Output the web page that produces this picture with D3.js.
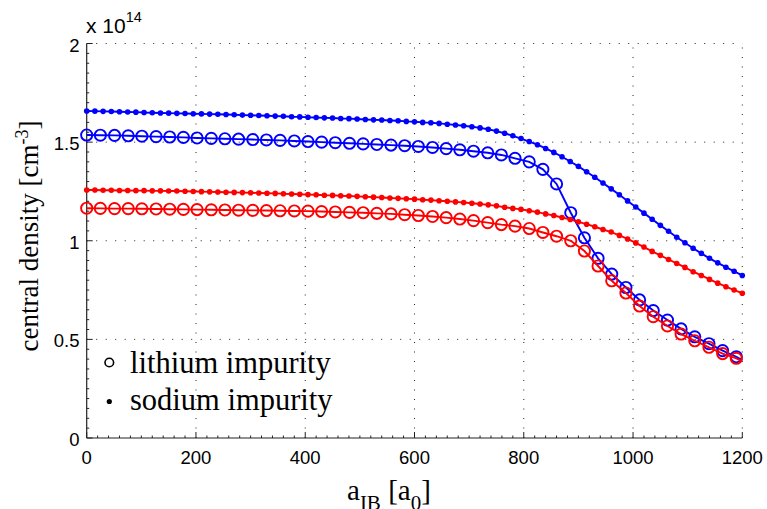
<!DOCTYPE html>
<html>
<head>
<meta charset="utf-8">
<script src="https://cdn.jsdelivr.net/npm/d3@7/dist/d3.min.js"></script>
<style>
  body { margin: 0; background: #fff; }
  svg { display: block; }
  .sans { font-family: "Liberation Sans", Arial, Helvetica, sans-serif; }
  .serif { font-family: "Liberation Serif", "Times New Roman", Times, serif; }
</style>
</head>
<body>
<svg id="chart" width="767" height="509"></svg>
<script>
// ---------- data ----------
const xTicks = [0, 200, 400, 600, 800, 1000, 1200];
const yTicks = [0, 0.5, 1, 1.5, 2];
const yTickLabels = ["0", "0.5", "1", "1.5", "2"];

// sodium impurity (filled dots), x step 15
const sodiumX = [0,15,30,45,60,75,90,105,120,135,150,165,180,195,210,225,240,255,270,285,300,315,330,345,360,375,390,405,420,435,450,465,480,495,510,525,540,555,570,585,600,615,630,645,660,675,690,705,720,735,750,765,780,795,810,825,840,855,870,885,900,915,930,945,960,975,990,1005,1020,1035,1050,1065,1080,1095,1110,1125,1140,1155,1170,1185,1200];
const sodiumBlue = [1.658,1.657,1.656,1.655,1.654,1.653,1.652,1.650,1.649,1.648,1.647,1.646,1.645,1.644,1.643,1.642,1.641,1.640,1.639,1.637,1.636,1.635,1.634,1.632,1.631,1.629,1.628,1.626,1.625,1.623,1.622,1.620,1.619,1.617,1.615,1.613,1.612,1.610,1.608,1.605,1.603,1.600,1.598,1.595,1.591,1.587,1.583,1.578,1.572,1.565,1.556,1.545,1.532,1.518,1.503,1.487,1.468,1.448,1.426,1.402,1.377,1.350,1.322,1.293,1.263,1.233,1.202,1.171,1.140,1.109,1.078,1.048,1.018,0.990,0.962,0.936,0.911,0.888,0.866,0.845,0.824];
const sodiumRed = [1.257,1.257,1.256,1.256,1.255,1.255,1.254,1.254,1.253,1.253,1.252,1.252,1.251,1.250,1.249,1.248,1.247,1.246,1.245,1.244,1.243,1.242,1.241,1.240,1.238,1.237,1.236,1.234,1.233,1.231,1.230,1.228,1.227,1.225,1.223,1.221,1.219,1.217,1.215,1.213,1.211,1.208,1.206,1.203,1.200,1.197,1.194,1.190,1.186,1.182,1.177,1.170,1.164,1.159,1.152,1.145,1.136,1.128,1.118,1.108,1.096,1.084,1.071,1.057,1.044,1.027,1.009,0.989,0.968,0.946,0.926,0.905,0.885,0.865,0.843,0.824,0.804,0.785,0.767,0.750,0.734];

// lithium impurity (open circles)
const lithiumX = [0,25,51,76,101,127,152,177,202,228,253,278,304,329,354,380,405,430,455,481,506,531,557,582,607,633,658,683,708,734,759,784,810,835,860,886,911,936,961,987,1012,1037,1063,1088,1113,1139,1164,1189,1200];
const lithiumBlue = [1.536,1.535,1.534,1.532,1.530,1.528,1.526,1.524,1.521,1.519,1.517,1.515,1.513,1.511,1.509,1.506,1.503,1.500,1.497,1.494,1.491,1.488,1.485,1.482,1.478,1.473,1.467,1.461,1.454,1.446,1.435,1.418,1.400,1.362,1.288,1.142,1.015,0.911,0.831,0.763,0.700,0.646,0.598,0.553,0.513,0.478,0.443,0.412,0.395];
const lithiumRed = [1.165,1.164,1.163,1.163,1.162,1.161,1.160,1.159,1.158,1.157,1.156,1.155,1.154,1.153,1.152,1.151,1.150,1.148,1.146,1.144,1.142,1.139,1.136,1.132,1.128,1.123,1.117,1.110,1.102,1.092,1.082,1.074,1.062,1.042,1.023,1.000,0.948,0.872,0.797,0.735,0.669,0.615,0.568,0.527,0.493,0.460,0.428,0.404,0.388];
const lithiumMarkerCount = 48; // last point (1200) is line end only

// ---------- layout ----------
const svg = d3.select("#chart");
const x = d3.scaleLinear().domain([0, 1200]).range([86.7, 742.3]);
const y = d3.scaleLinear().domain([0, 2]).range([438, 43.5]);
const BLUE = "#0000ff", RED = "#ff0000";

// grid (dotted)
const grid = svg.append("g");
grid.selectAll(".gv").data(xTicks.slice(1)).enter().append("line")
  .attr("x1", d => x(d)).attr("x2", d => x(d))
  .attr("y1", y(0)).attr("y2", y(2))
  .attr("stroke", "#222").attr("stroke-width", 1).attr("stroke-dasharray", "1,8.5");
grid.selectAll(".gh").data(yTicks.slice(1)).enter().append("line")
  .attr("x1", x(0)).attr("x2", x(1200))
  .attr("y1", d => y(d)).attr("y2", d => y(d))
  .attr("stroke", "#222").attr("stroke-width", 1).attr("stroke-dasharray", "1,8.5");

// axes
const xMinor = d3.range(0, 1201, 20);
const yMinor = d3.range(0, 2.0001, 0.05);
const ax = svg.append("g");
ax.append("line").attr("x1", x(0)).attr("x2", x(1200)).attr("y1", y(0)).attr("y2", y(0))
  .attr("stroke", "#222").attr("stroke-width", 1.2);
ax.append("line").attr("x1", x(0)).attr("x2", x(0)).attr("y1", y(0)).attr("y2", y(2))
  .attr("stroke", "#222").attr("stroke-width", 1.2);
ax.selectAll(".xm").data(xMinor).enter().append("line")
  .attr("x1", d => x(d)).attr("x2", d => x(d))
  .attr("y1", y(0)).attr("y2", d => y(0) - (xTicks.includes(d) ? 6 : 2.5))
  .attr("stroke", "#222").attr("stroke-width", 1);
ax.selectAll(".ym").data(yMinor).enter().append("line")
  .attr("y1", d => y(d)).attr("y2", d => y(d))
  .attr("x1", x(0)).attr("x2", (d, i) => x(0) + (i % 10 === 0 ? 6 : 2.5))
  .attr("stroke", "#222").attr("stroke-width", 1);

// tick labels
ax.selectAll(".xl").data(xTicks).enter().append("text")
  .attr("class", "sans")
  .attr("x", d => x(d)).attr("y", 464)
  .attr("text-anchor", "middle").attr("font-size", 18.5)
  .text(d => d);
ax.selectAll(".yl").data(yTicks).enter().append("text")
  .attr("class", "sans")
  .attr("x", 79.5).attr("y", d => y(d) + 8)
  .attr("text-anchor", "end").attr("font-size", 18.5)
  .text((d, i) => yTickLabels[i]);

// exponent
const ex = svg.append("text").attr("class", "sans").attr("x", 86).attr("y", 33.3)
  .attr("font-size", 21);
ex.append("tspan").text("x 10");
ex.append("tspan").attr("font-size", 14.5).attr("dy", -11.5).text("14");

// axis titles
const xt = svg.append("text").attr("class", "serif").attr("x", 347).attr("y", 500)
  .attr("font-size", 29);
xt.append("tspan").text("a");
xt.append("tspan").attr("font-size", 21).attr("dy", 10).text("IB");
xt.append("tspan").attr("dy", -10).text(" [a");
xt.append("tspan").attr("font-size", 21).attr("dy", 10).text("0");
xt.append("tspan").attr("dy", -10).text("]");

const yt = svg.append("text").attr("class", "serif")
  .attr("transform", "translate(38,236) rotate(-90)")
  .attr("text-anchor", "middle").attr("font-size", 27);
yt.append("tspan").text("central density [cm");
yt.append("tspan").attr("font-size", 18).attr("dy", -10).text("-3");
yt.append("tspan").attr("dy", 10).text("]");

// series
const line = d3.line().x(d => x(d[0])).y(d => y(d[1]));
function drawDots(xs, ys, color) {
  const pts = xs.map((v, i) => [v, ys[i]]);
  svg.append("path").attr("d", line(pts)).attr("fill", "none")
    .attr("stroke", color).attr("stroke-width", 1.9);
  svg.append("g").selectAll("circle").data(pts).enter().append("circle")
    .attr("cx", d => x(d[0])).attr("cy", d => y(d[1])).attr("r", 2.8)
    .attr("fill", color);
}
function drawCircles(xs, ys, color) {
  const pts = xs.map((v, i) => [v, ys[i]]);
  svg.append("path").attr("d", line(pts)).attr("fill", "none")
    .attr("stroke", color).attr("stroke-width", 1.9);
  svg.append("g").selectAll("circle").data(pts.slice(0, lithiumMarkerCount)).enter().append("circle")
    .attr("cx", d => x(d[0])).attr("cy", d => y(d[1])).attr("r", 5.6)
    .attr("fill", "none").attr("stroke", color).attr("stroke-width", 1.9);
}
drawDots(sodiumX, sodiumBlue, BLUE);
drawCircles(lithiumX, lithiumBlue, BLUE);
drawDots(sodiumX, sodiumRed, RED);
drawCircles(lithiumX, lithiumRed, RED);

// legend
const lg = svg.append("g");
lg.append("circle").attr("cx", 109.3).attr("cy", 362.5).attr("r", 4.3)
  .attr("fill", "none").attr("stroke", "#000").attr("stroke-width", 1.6);
lg.append("circle").attr("cx", 109.3).attr("cy", 401.5).attr("r", 2.6).attr("fill", "#000");
lg.append("text").attr("class", "serif").attr("x", 130).attr("y", 372.7)
  .attr("font-size", 30.5).text("lithium impurity");
lg.append("text").attr("class", "serif").attr("x", 130).attr("y", 410)
  .attr("font-size", 30.5).text("sodium impurity");
</script>
</body>
</html>
